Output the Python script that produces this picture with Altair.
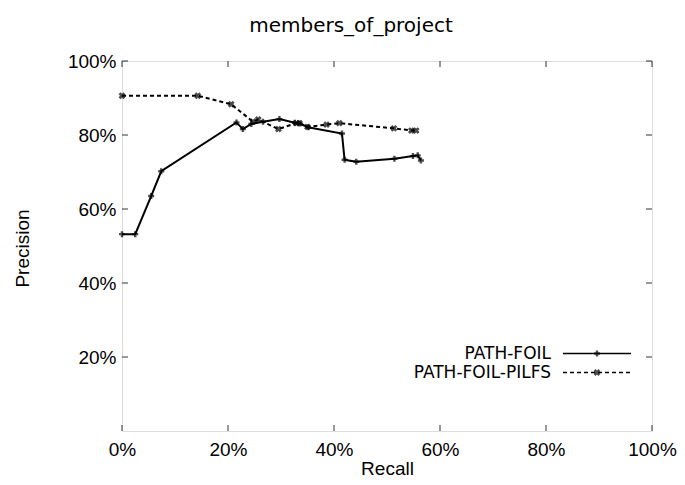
import altair as alt
import pandas as pd

foil_recall = [0, 2.5, 5.5, 7.4, 21.6, 22.8, 24.4, 26.6, 29.7, 32.6, 33.5, 35.1, 41.5, 42.0, 44.2, 51.4, 54.9, 55.8, 56.4]
foil_prec = [53.2, 53.2, 63.5, 70.2, 83.4, 81.6, 83.0, 83.6, 84.3, 83.3, 83.1, 82.1, 80.4, 73.3, 72.8, 73.6, 74.3, 74.5, 73.1]
pilfs_recall = [0, 14.3, 20.6, 24.7, 25.7, 29.5, 32.9, 33.5, 35.0, 38.6, 41.0, 51.3, 54.6, 55.5]
pilfs_prec = [90.6, 90.6, 88.3, 83.6, 84.2, 81.6, 83.2, 83.2, 82.2, 82.8, 83.2, 81.8, 81.2, 81.2]
x_ticks = [0, 20, 40, 60, 80, 100]
y_ticks = [20, 40, 60, 80, 100]
series_names = ["PATH-FOIL", "PATH-FOIL-PILFS"]

W, H = 530, 370
FONT = "Liberation Sans"
FS = 19
LFS = 17

foil = pd.DataFrame({"recall": foil_recall, "precision": foil_prec, "order": range(len(foil_recall))})
pilfs = pd.DataFrame({"recall": pilfs_recall, "precision": pilfs_prec, "order": range(len(pilfs_recall))})

xscale = alt.Scale(domain=[0, 100], nice=False)
yscale = alt.Scale(domain=[0, 100], nice=False)

xaxis = alt.Axis(values=x_ticks, labelExpr="datum.value + '%'", grid=False, ticks=False, domain=False,
                 labelFlush=False, labelOverlap=False,
                 labelFont=FONT, labelFontSize=FS, labelColor="black", labelPadding=9,
                 title="Recall", titleFont=FONT, titleFontSize=FS, titleFontWeight="normal",
                 titleColor="black", titlePadding=0)
yaxis = alt.Axis(values=y_ticks, labelExpr="datum.value + '%'", grid=False, ticks=False, domain=False,
                 labelFlush=False, labelOverlap=False,
                 labelFont=FONT, labelFontSize=FS, labelColor="black", labelPadding=6,
                 title="Precision", titleFont=FONT, titleFontSize=FS, titleFontWeight="normal",
                 titleColor="black", titleX=-100, titleY=H / 2 + 2, titleBaseline="middle")

X = alt.X("recall:Q", scale=xscale, axis=xaxis)
Y = alt.Y("precision:Q", scale=yscale, axis=yaxis)

foil_line = alt.Chart(foil).mark_line(color="black", strokeWidth=2).encode(x=X, y=Y, order="order:Q")
foil_pts = alt.Chart(foil).mark_point(shape="cross", color="black", filled=True, size=36).encode(x=X, y=Y)
pilfs_line = alt.Chart(pilfs).mark_line(color="black", strokeWidth=2, strokeDash=[4, 3]).encode(x=X, y=Y, order="order:Q")
pilfs_pts = alt.Chart(pilfs).mark_point(shape="cross", angle=45, color="black", filled=True, size=48).encode(x=X, y=Y)

xt = pd.DataFrame({"v": x_ticks})
yt = pd.DataFrame({"v": y_ticks})
TL = 6
tick_bottom = alt.Chart(xt).mark_rule(color="#333", strokeWidth=1).encode(
    x=alt.X("v:Q", scale=xscale), y=alt.value(H), y2=alt.value(H - TL))
tick_top = alt.Chart(xt).mark_rule(color="#333", strokeWidth=1).encode(
    x=alt.X("v:Q", scale=xscale), y=alt.value(0), y2=alt.value(TL))
tick_left = alt.Chart(yt).mark_rule(color="#333", strokeWidth=1).encode(
    y=alt.Y("v:Q", scale=yscale), x=alt.value(0), x2=alt.value(TL))
tick_right = alt.Chart(yt).mark_rule(color="#333", strokeWidth=1).encode(
    y=alt.Y("v:Q", scale=yscale), x=alt.value(W), x2=alt.value(W - TL))

leg = pd.DataFrame({"name": series_names})
rows = []
for i, name in enumerate(series_names):
    yy = 292.5 + 19 * i
    d = leg[leg["name"] == name]
    rows.append(alt.Chart(d).mark_text(align="right", baseline="middle", font="DejaVu Sans", fontSize=LFS, color="black").encode(
        text="name:N", x=alt.value(429), y=alt.value(yy)))
    dash = [1, 0] if i == 0 else [4, 3]
    rows.append(alt.Chart(d).mark_rule(color="black", strokeWidth=1.5, strokeDash=dash).encode(
        x=alt.value(441), x2=alt.value(509), y=alt.value(yy)))
    rows.append(alt.Chart(d).mark_point(shape="cross", angle=0 if i == 0 else 45, color="black", filled=True,
                                        size=36 if i == 0 else 48).encode(x=alt.value(475), y=alt.value(yy)))

chart = alt.layer(
    tick_bottom, tick_top, tick_left, tick_right,
    foil_line, foil_pts, pilfs_line, pilfs_pts, *rows
).properties(
    width=W, height=H,
    title=alt.TitleParams("members_of_project", font="DejaVu Sans", fontSize=20, fontWeight="normal",
                          color="black", anchor="middle", offset=16, dx=-36),
    autosize=alt.AutoSizeParams(type="none"),
    padding={"left": 114, "top": 53, "right": 25, "bottom": 50},
).configure_view(stroke="#333", strokeWidth=1.5).configure(background="white")

chart.save("out.html", embed_options={"renderer": "svg", "actions": False})
